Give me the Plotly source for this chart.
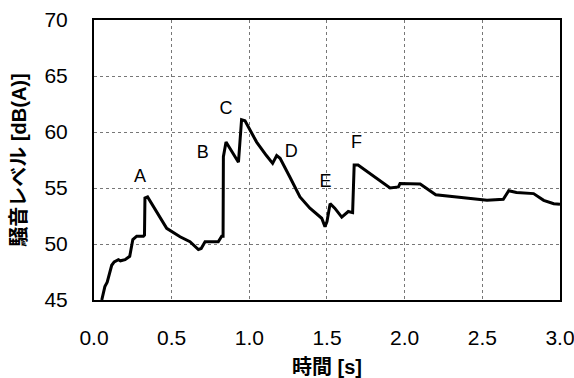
import plotly.graph_objects as go

time_s = [0.05, 0.06, 0.07, 0.085, 0.10, 0.114, 0.13, 0.157, 0.17, 0.20, 0.23, 0.25, 0.275, 0.318, 0.325,
          0.328, 0.345, 0.40, 0.468, 0.554, 0.618, 0.672, 0.69, 0.715, 0.80, 0.822, 0.831, 0.833, 0.85,
          0.93, 0.95, 0.972, 1.047, 1.11, 1.15, 1.176, 1.198, 1.26, 1.326, 1.39, 1.466, 1.487, 1.50,
          1.52, 1.55, 1.595, 1.637, 1.665, 1.675, 1.70, 1.756, 1.84, 1.906, 1.96, 1.97, 2.10, 2.15,
          2.20, 2.335, 2.46, 2.53, 2.635, 2.67, 2.72, 2.83, 2.895, 2.96, 3.0]
level_db = [45.0, 45.6, 46.2, 46.6, 47.5, 48.1, 48.4, 48.6, 48.5, 48.6, 48.9, 50.4, 50.7, 50.7, 50.8,
            54.1, 54.2, 52.9, 51.4, 50.65, 50.2, 49.5, 49.6, 50.2, 50.2, 50.7, 50.7, 57.8, 59.1,
            57.3, 61.1, 61.0, 59.1, 57.9, 57.2, 57.9, 57.65, 56.0, 54.2, 53.2, 52.3, 51.55, 52.0,
            53.6, 53.2, 52.4, 52.9, 52.8, 57.05, 57.05, 56.5, 55.7, 55.0, 55.1, 55.4, 55.35, 54.9,
            54.4, 54.2, 54.0, 53.9, 54.0, 54.75, 54.6, 54.5, 53.9, 53.6, 53.55]

label_text = ["A", "B", "C", "D", "E", "F"]
label_t = [0.296, 0.70, 0.85, 1.27, 1.49, 1.69]
label_v = [55.9, 58.1, 62.0, 58.2, 55.5, 59.0]

x_ticks = [0.0, 0.5, 1.0, 1.5, 2.0, 2.5, 3.0]
y_ticks = [45, 50, 55, 60, 65, 70]

FONT = "Liberation Sans, Arial, Noto Sans CJK JP"

fig = go.Figure()
fig.add_trace(go.Scatter(x=time_s, y=level_db, mode="lines",
                         line=dict(color="black", width=3), hoverinfo="skip", showlegend=False))
fig.add_trace(go.Scatter(x=label_t, y=label_v, mode="text", text=label_text,
                         textfont=dict(family=FONT, size=18, color="black"), showlegend=False))

axis_common = dict(showline=True, mirror=True, linecolor="black", linewidth=2,
                   showgrid=True, gridcolor="#777777", griddash="dot", gridwidth=1,
                   zeroline=False, ticks="", automargin=False, ticklabeloverflow="allow",
                   tickfont=dict(family=FONT, size=21, color="black"))

fig.update_xaxes(range=[0, 3.0001], tickvals=x_ticks, ticktext=[f"{v:.1f}" for v in x_ticks],
                 ticklabelstandoff=18,
                 title=dict(text="<b>時間 [s]</b>", font=dict(family=FONT, size=20, color="black"), standoff=12),
                 **axis_common)
fig.update_yaxes(range=[45, 70], tickvals=y_ticks, ticklabelstandoff=20,
                 title=dict(text="<b>騒音レベル [dB(A)]</b>", font=dict(family=FONT, size=20, color="black"), standoff=12),
                 **axis_common)

fig.update_layout(width=574, height=378, margin=dict(l=94, r=14, t=20, b=78),
                  paper_bgcolor="white", plot_bgcolor="white", font=dict(family=FONT))

fig.write_html("out.html")
